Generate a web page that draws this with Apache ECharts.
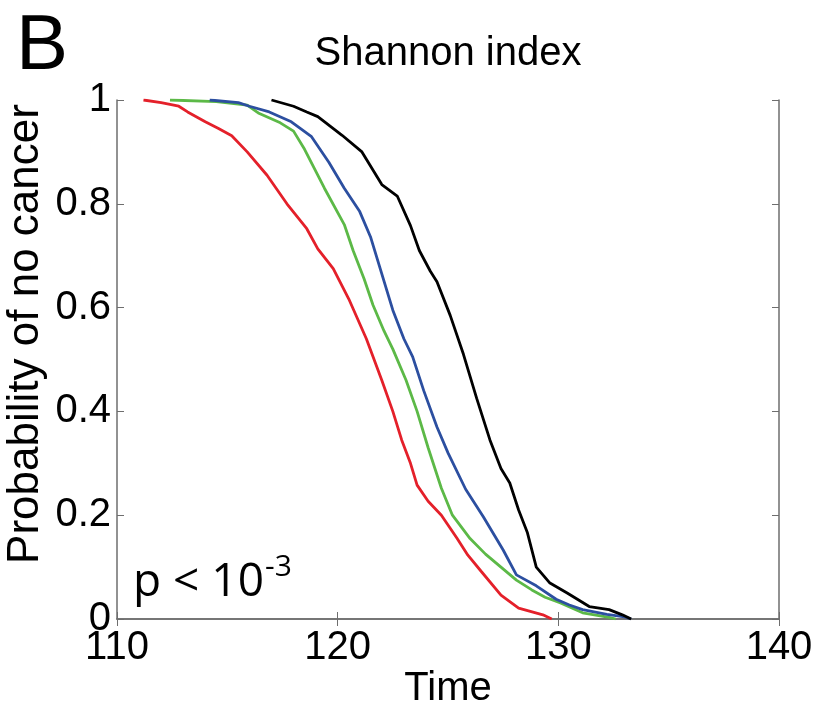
<!DOCTYPE html>
<html>
<head>
<meta charset="utf-8">
<script src="https://cdn.jsdelivr.net/npm/echarts@6/dist/echarts.min.js"></script>
<style>html,body{margin:0;padding:0;background:#fff;}#c{width:818px;height:706px;}</style>
</head>
<body>
<div id="c"></div>
<script>
const xTicks = [110, 120, 130, 140];
const yTicks = [0, 0.2, 0.4, 0.6, 0.8, 1];

const redCurve = [[111.2,1.0],[112.0,0.995],[112.8,0.988],[113.2,0.977],[114.0,0.958],[114.6,0.945],[115.2,0.931],[115.9,0.90],[116.8,0.855],[117.7,0.80],[118.6,0.752],[119.1,0.713],[119.8,0.675],[120.5,0.617],[121.3,0.54],[122.0,0.46],[122.5,0.40],[122.9,0.345],[123.3,0.30],[123.6,0.258],[124.1,0.227],[124.7,0.20],[125.4,0.156],[125.9,0.123],[126.5,0.092],[127.4,0.046],[128.2,0.021],[129.3,0.008],[129.7,0]];
const greenCurve = [[112.4,1.0],[114.5,0.997],[115.9,0.99],[116.4,0.975],[117.4,0.956],[118.0,0.94],[118.5,0.905],[119.4,0.83],[120.3,0.76],[120.7,0.71],[121.2,0.655],[121.6,0.605],[122.1,0.555],[122.5,0.52],[123.1,0.46],[123.6,0.40],[124.1,0.33],[124.7,0.252],[125.2,0.20],[126.0,0.155],[126.7,0.125],[127.4,0.10],[128.1,0.075],[128.8,0.056],[129.4,0.042],[130.1,0.031],[131.1,0.012],[132.3,0.003],[132.6,0]];
const blueCurve = [[114.2,1.0],[115.5,0.995],[116.0,0.988],[116.9,0.977],[117.9,0.958],[118.8,0.93],[119.6,0.88],[120.3,0.83],[121.0,0.785],[121.5,0.735],[122.0,0.665],[122.5,0.595],[123.0,0.54],[123.4,0.505],[123.9,0.44],[124.5,0.37],[125.0,0.32],[125.8,0.25],[126.6,0.197],[127.5,0.133],[128.1,0.085],[129.0,0.064],[129.9,0.038],[130.5,0.027],[131.1,0.018],[132.2,0.009],[133.0,0.004],[133.3,0]];
const blackCurve = [[117.0,1.0],[118.0,0.988],[118.6,0.977],[119.1,0.968],[120.2,0.932],[121.1,0.90],[122.0,0.837],[122.7,0.815],[123.3,0.758],[123.7,0.71],[124.2,0.67],[124.5,0.65],[125.1,0.585],[125.7,0.51],[126.3,0.425],[126.9,0.345],[127.4,0.29],[127.8,0.262],[128.2,0.21],[128.6,0.166],[129.0,0.10],[129.6,0.07],[130.4,0.05],[131.4,0.024],[132.3,0.018],[132.9,0.008],[133.3,0]];

const seriesNames = ['red', 'green', 'blue', 'black'];
const seriesColors = ['#e4202a', '#5cb947', '#2c4fa0', '#000000'];
const seriesData = [redCurve, greenCurve, blueCurve, blackCurve];

const titleText = 'Shannon index';
const panelLabel = 'B';
const xName = 'Time';
const yName = 'Probability of no cancer';

const FONT = '"Liberation Sans", Arial, Helvetica, sans-serif';
const PFONT = '"Open Sans", "Noto Sans", sans-serif';
const axisColor = '#6e6e6e';

const chart = echarts.init(document.getElementById('c'), null, {renderer: 'canvas'});

function yFmt(v) {
  if (Math.abs(v) < 1e-9) return '0';
  if (Math.abs(v - 1) < 1e-9) return '1';
  return v.toFixed(1);
}

const baseX = {
  type: 'value', min: xTicks[0], max: xTicks[xTicks.length - 1], interval: 10,
  axisLine: {show: true, lineStyle: {color: axisColor, width: 1.5}},
  axisTick: {show: true, inside: true, length: 7, lineStyle: {color: axisColor, width: 1}},
  splitLine: {show: false}
};
const baseY = {
  type: 'value', min: yTicks[0], max: yTicks[yTicks.length - 1], interval: 0.2,
  axisLine: {show: true, lineStyle: {color: axisColor, width: 1.5}},
  axisTick: {show: true, inside: true, length: 7, lineStyle: {color: axisColor, width: 1}},
  splitLine: {show: false}
};

chart.setOption({
  animation: false,
  backgroundColor: '#ffffff',
  grid: {left: 117, right: 39, top: 100, bottom: 87, containLabel: false},
  xAxis: [
    Object.assign({}, baseX, {
      position: 'bottom',
      axisLabel: {show: true, color: '#000', fontSize: 40, fontFamily: FONT, margin: 9}
    }),
    Object.assign({}, baseX, {position: 'top', axisLabel: {show: false}})
  ],
  yAxis: [
    Object.assign({}, baseY, {
      position: 'left',
      axisLabel: {show: true, color: '#000', fontSize: 40, fontFamily: FONT, margin: 6, formatter: yFmt}
    }),
    Object.assign({}, baseY, {position: 'right', axisLabel: {show: false}})
  ],
  series: seriesData.map((d, i) => ({
    name: seriesNames[i],
    type: 'line',
    xAxisIndex: 0, yAxisIndex: 0,
    data: d,
    showSymbol: false,
    symbol: 'none',
    lineStyle: {color: seriesColors[i], width: 2.8},
    z: 2 + i
  })),
  graphic: [
    {type: 'text', left: 16, top: 8, style: {text: panelLabel, font: '78px ' + FONT, fill: '#000'}},
    {type: 'text', x: 448, y: 54, style: {text: titleText, font: '40px ' + FONT, fill: '#000', textAlign: 'center', textVerticalAlign: 'middle'}},
    {type: 'text', x: 448, y: 689, style: {text: xName, font: '40px ' + FONT, fill: '#000', textAlign: 'center', textVerticalAlign: 'middle'}},
    {type: 'text', x: 26, y: 334, rotation: Math.PI / 2, style: {text: yName, font: '44px ' + FONT, fill: '#000', textAlign: 'center', textVerticalAlign: 'middle'}},
    {type: 'text', x: 133, y: 583, style: {text: 'p < 10', font: '46px ' + PFONT, fill: '#000', textAlign: 'left', textVerticalAlign: 'middle'}},
    {type: 'text', x: 265, y: 567, style: {text: '-3', font: '30px ' + PFONT, fill: '#000', textAlign: 'left', textVerticalAlign: 'middle'}}
  ]
});
</script>
</body>
</html>
